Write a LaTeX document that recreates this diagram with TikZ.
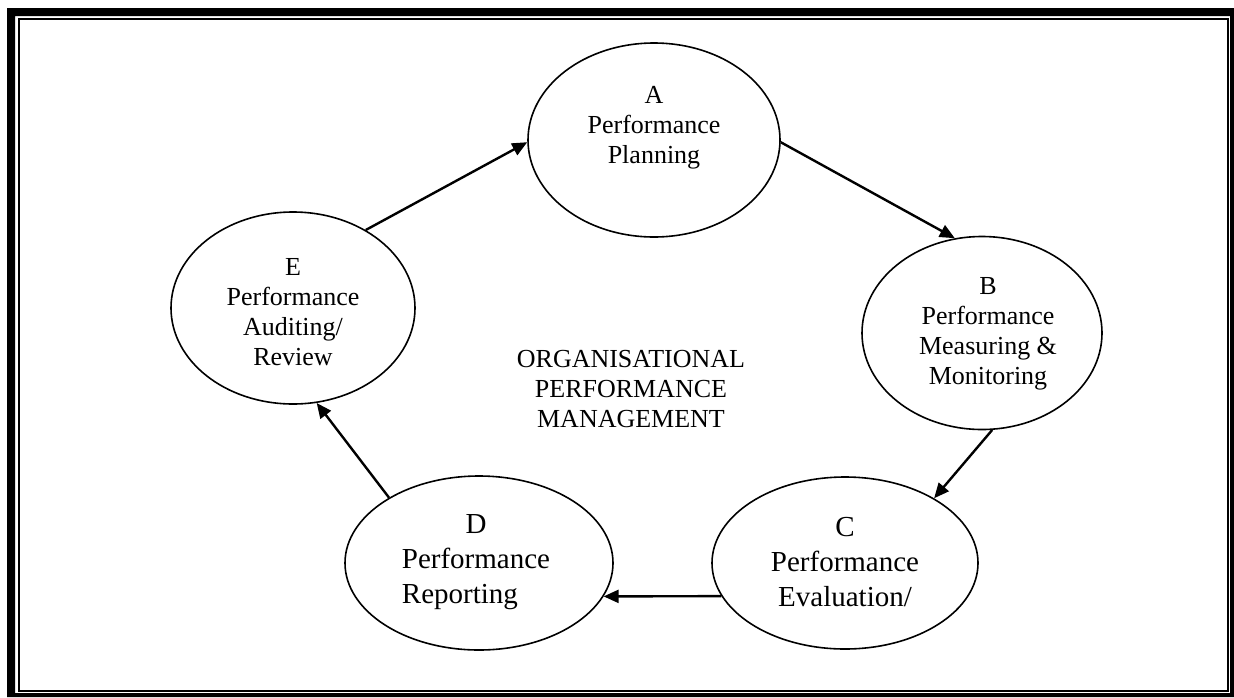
\documentclass[tikz,border=0pt]{standalone}
\usepackage{fontspec}
\setmainfont{Liberation Serif}
\usetikzlibrary{arrows.meta,shapes.geometric}
\begin{document}
\begin{tikzpicture}[x=1pt,y=-1pt,
  stage/.style={draw, ellipse, line width=1.6pt, inner sep=0pt},
  stagetext/.style={align=center, inner sep=0pt, font=\fontsize{26}{30}\selectfont},
  bigtext/.style={align=center, inner sep=0pt, font=\fontsize{29}{35}\selectfont},
  flow/.style={-{Triangle[length=15pt,width=13pt]}, line width=2.4pt}
]
\useasboundingbox (0,0) rectangle (1234,697);

% double page frame: heavy outer band, thin inner rule
\fill[even odd rule] (7,8) rectangle (1234,697) (15,16) rectangle (1230,693);
\draw[line width=2pt] (19,19) rectangle (1228,691);

% the five stages of the cycle
\node[stage, minimum width=252, minimum height=194] (A) at (654,140) {};
\node[stage, minimum width=240, minimum height=193] (B) at (982,333) {};
\node[stage, minimum width=266, minimum height=172] (C) at (845,563) {};
\node[stage, minimum width=268, minimum height=174] (D) at (479,563) {};
\node[stage, minimum width=244, minimum height=192] (E) at (293,308) {};

\node[stagetext] (Atext) at (654,128) {A\\Performance\\Planning};
\node[stagetext] (Btext) at (988,334) {B\\Performance\\Measuring \&\\Monitoring};
\node[bigtext] (Ctext) at (845,562) {C\\Performance\\Evaluation/};
\node[bigtext] (Dtext) at (476,561) {\begin{tabular}{@{}l@{}}\multicolumn{1}{@{}c@{}}{D}\\Performance\\Reporting\end{tabular}};
\node[stagetext] (Etext) at (293,312) {E\\Performance\\Auditing/\\Review};

\node[stagetext] (core) at (631,389) {ORGANISATIONAL\\PERFORMANCE\\MANAGEMENT};

% cycle arrows
\draw[flow] (E.47) -- (A.181);
\draw[flow] (A.-1) -- (B.106);
\draw[flow] (B.-84) -- (C.36);
\draw[flow] (C.195) -- (D.-15);
\draw[flow] (D.144) -- (E.-76);
\end{tikzpicture}
\end{document}
